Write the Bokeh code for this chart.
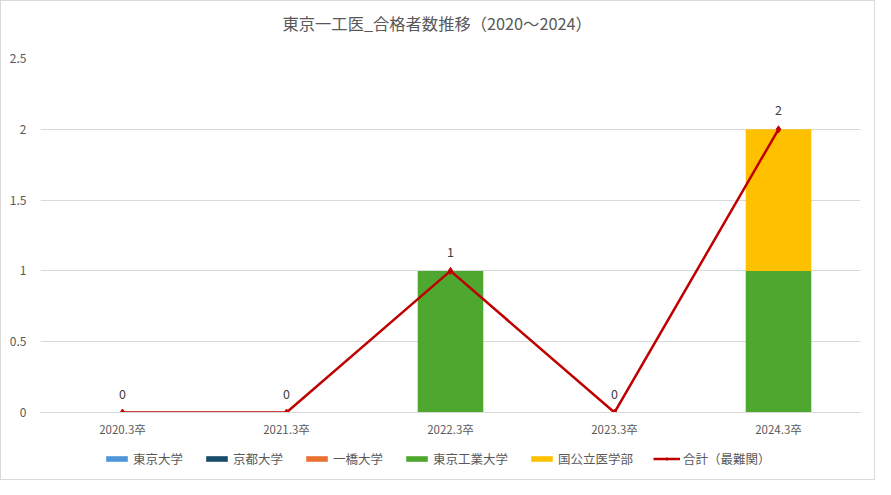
from bokeh.plotting import figure
from bokeh.layouts import column
from bokeh.models import (FactorRange, FixedTicker, CustomJSTickFormatter, Legend,
                          LegendItem, ColumnDataSource, Title)
from bokeh.core.properties import value
from bokeh.embed import file_html
from bokeh.resources import INLINE

FONT = "Noto Sans CJK JP"
NAN = float("nan")

categories = ["2020.3卒", "2021.3卒", "2022.3卒", "2023.3卒", "2024.3卒"]
series_names = ["東京大学", "京都大学", "一橋大学", "東京工業大学", "国公立医学部"]
todai = [0, 0, 0, 0, 0]
kyodai = [0, 0, 0, 0, 0]
hitotsubashi = [0, 0, 0, 0, 0]
tokodai = [0, 0, 1, 0, 1]
igakubu = [0, 0, 0, 0, 1]
total = [0, 0, 1, 0, 2]
total_name = "合計（最難関）"
y_ticks = [0, 0.5, 1, 1.5, 2, 2.5]
colors = ["#4E95D9", "#164C68", "#E97132", "#4EA72E", "#FFC000"]
line_color = "#C00000"

keys = ["s0", "s1", "s2", "s3", "s4"]
data = dict(x=categories, s0=todai, s1=kyodai, s2=hitotsubashi, s3=tokodai, s4=igakubu,
            total=total, label=[str(v) for v in total])
src = ColumnDataSource(data)

W = 873
p = figure(x_range=FactorRange(*categories), y_range=(0, 2.5), width=W, height=448,
           output_backend="svg", toolbar_location=None,
           min_border_left=39, min_border_right=14, min_border_top=57, min_border_bottom=37)
p.outline_line_color = None
p.background_fill_color = "white"
p.border_fill_color = "white"

bars = p.vbar_stack(keys, x="x", width=0.4, color=colors, line_color=None, source=src)
ln = p.line(x="x", y="total", line_color=line_color, line_width=2.5, source=src)
mk = p.scatter(x="x", y="total", marker="diamond", size=7, fill_color=line_color,
               line_color=line_color, source=src)
p.text(x="x", y="total", text="label", source=src, text_align="center",
       text_baseline="middle", y_offset=-19, text_font=value(FONT),
       text_font_size="12.5px", text_color="#404040")

spacer = Title(text=" ", text_font=FONT, text_font_size="10px", standoff=0)
p.add_layout(spacer, "above")
t = Title(text="東京一工医_合格者数推移（2020〜2024）", align="left", offset=242,
          text_font=FONT, text_font_size="16.3px", text_font_style="normal",
          text_color="#595959", standoff=14)
p.add_layout(t, "above")

p.yaxis.ticker = FixedTicker(ticks=y_ticks)
p.yaxis.formatter = CustomJSTickFormatter(code="return tick.toString();")
p.yaxis.axis_line_color = None
p.yaxis.major_tick_line_color = None
p.yaxis.minor_tick_line_color = None
p.yaxis.major_label_standoff = 8
p.xaxis.axis_line_color = "#D9D9D9"
p.xaxis.major_tick_line_color = None
p.xaxis.minor_tick_line_color = None
p.xaxis.major_tick_out = 0
p.xaxis.major_label_standoff = 8
for ax in (p.xaxis, p.yaxis):
    ax.major_label_text_font = FONT
    ax.major_label_text_color = "#595959"
p.yaxis.major_label_text_font_size = "12px"
p.xaxis.major_label_text_font_size = "11.5px"
p.xgrid.grid_line_color = None
p.ygrid.grid_line_color = "#D9D9D9"
p.ygrid.ticker = FixedTicker(ticks=y_ticks)

# legend strip below the chart (proxy renderers holding no visible data)
pl = figure(width=W, height=30, x_range=(0, 1), y_range=(0, 1), output_backend="svg",
            toolbar_location=None, min_border=0, x_axis_location=None, y_axis_location=None)
pl.grid.grid_line_color = None
pl.outline_line_color = None
pl.background_fill_color = "white"
pl.border_fill_color = "white"
proxies = [pl.vbar(x=[NAN], top=[NAN], width=0.1, fill_color=c, line_color=None)
           for c in colors]
pln = pl.line(x=[NAN, NAN], y=[NAN, NAN], line_color=line_color, line_width=2.5)
pmk = pl.scatter(x=[NAN], y=[NAN], marker="diamond", size=7, fill_color=line_color,
                 line_color=line_color)
items = [LegendItem(label=n, renderers=[r]) for n, r in zip(series_names, proxies)]
items.append(LegendItem(label=total_name, renderers=[pln, pmk]))
leg = Legend(items=items, orientation="horizontal", location=(63, 11),
             label_text_font=FONT, label_text_font_size="12.5px", label_text_color="#595959",
             glyph_width=27, glyph_height=7, label_standoff=3, spacing=20,
             padding=0, margin=0, border_line_color=None, background_fill_alpha=0)
pl.add_layout(leg, "center")

layout = column(p, pl, spacing=0)
layout.styles = {"border": "1px solid #D9D9D9"}

open("out.html", "w").write(file_html(layout, INLINE))
